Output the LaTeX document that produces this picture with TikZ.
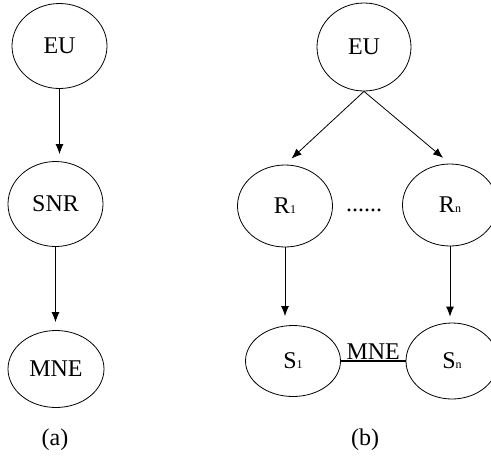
\documentclass[tikz,border=0pt]{standalone}
\usepackage{fontspec}
\setmainfont{Liberation Serif}
\usetikzlibrary{shapes.geometric,arrows.meta}

\newcommand{\sbs}[1]{{\fontsize{12}{12}\selectfont #1}}

\begin{document}
\begin{tikzpicture}[x=1pt,y=-1pt,>={Latex[length=10pt,width=8pt]},line width=0.8pt,
    bubble/.style={draw,ellipse,inner sep=0pt,minimum width=95pt,minimum height=85pt,font=\fontsize{24}{26}\selectfont},
    lbl/.style={font=\fontsize{24}{26}\selectfont}]
    \useasboundingbox(0,0)rectangle(491,459);

    % (a)
    \node[bubble](eua)at(59.5,46){EU};
    \node[bubble](snr)at(55.5,204){SNR};
    \node[bubble,minimum width=96pt,minimum height=77pt](mnea)at(56,369){MNE};
    \draw[->,shorten >=7pt](eua.south)--(eua.south |- snr.north);
    \draw[->,shorten >=8pt](snr.south)--(snr.south |- mnea.north);
    \node[lbl](capa)at(55,440){(a)};

    % (b)
    \node[bubble,minimum width=94pt,minimum height=88pt](eub)at(364,47){EU};
    \node[bubble,minimum height=82pt](ra)at(285,206){R\sbs{1}};
    \node[bubble,minimum height=82pt](rn)at(450,205){R\sbs{n}};
    \node[lbl](dots)at(364,210){......};
    \draw[->,shorten >=9pt](eub.south)--(ra.north);
    \draw[->,shorten >=9pt](eub.south)--(rn.north);

    \node[bubble,minimum height=71pt](sa)at(293,361){S\sbs{1}};
    \node[bubble,minimum width=92pt,minimum height=76pt](sn)at(452,361){S\sbs{n}};
    \draw[->,shorten >=9pt](ra.south)--(ra.south |- sa.north);
    \draw[->,shorten >=6pt](rn.south)--(rn.south |- sn.north);
    \draw[line width=1.6pt](sa.east)--node[lbl,above,inner sep=0.5pt]{MNE}(sn.west);
    \node[lbl](capb)at(365,440){(b)};
\end{tikzpicture}
\end{document}
